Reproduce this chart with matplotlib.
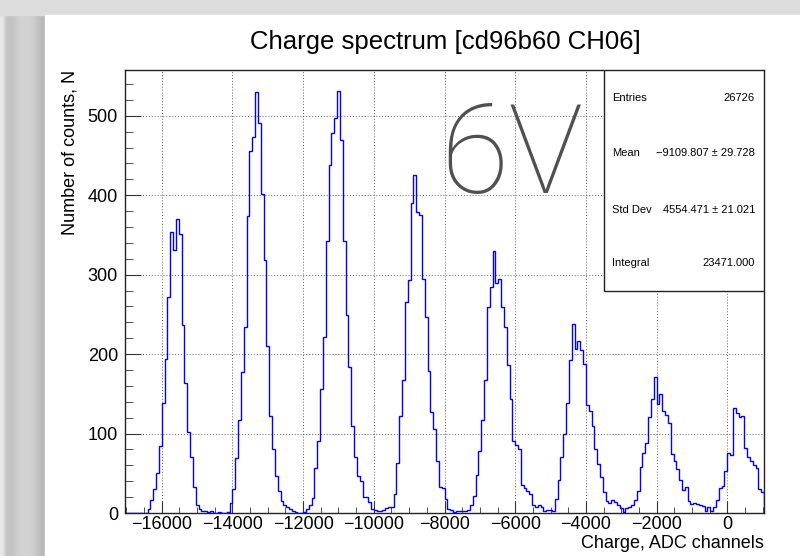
import numpy as np
import matplotlib
matplotlib.use('Agg')
import matplotlib.pyplot as plt
from matplotlib.patches import Rectangle
from matplotlib.ticker import MultipleLocator

plt.rcParams['font.family'] = ['Liberation Sans', 'DejaVu Sans']

# histogram: 226 bins of 80 ADC channels starting at -17040
x_min = -17040
bin_width = 80
counts = [
    0, 0, 0, 0, 0, 0, 0, 0, 5, 16,
    30, 50, 84, 138, 194, 272, 354, 331, 370, 351,
    236, 164, 102, 70, 33, 10, 5, 3, 2, 1,
    2, 0, 0, 1, 0, 0, 1, 13, 30, 69,
    117, 177, 234, 374, 456, 473, 530, 491, 402, 319,
    210, 122, 80, 46, 28, 15, 10, 7, 5, 3,
    1, 0, 0, 1, 5, 10, 19, 57, 91, 156,
    222, 342, 438, 478, 497, 531, 470, 342, 249, 184,
    109, 70, 47, 40, 20, 20, 14, 5, 4, 3,
    3, 4, 6, 7, 7, 24, 63, 122, 168, 266,
    293, 390, 425, 379, 375, 295, 247, 179, 127, 106,
    66, 33, 31, 17, 5, 4, 1, 3, 3, 3,
    3, 4, 10, 22, 48, 78, 117, 167, 259, 284,
    330, 290, 294, 259, 234, 186, 144, 91, 86, 81,
    35, 31, 28, 24, 10, 8, 10, 8, 3, 4,
    4, 3, 18, 41, 70, 100, 139, 192, 238, 207,
    216, 205, 188, 136, 129, 110, 80, 62, 45, 27,
    15, 12, 16, 14, 10, 6, 1, 6, 8, 10,
    16, 28, 58, 75, 88, 121, 144, 171, 137, 150,
    129, 123, 113, 74, 66, 56, 42, 29, 33, 15,
    11, 12, 11, 10, 9, 2, 7, 2, 8, 16,
    32, 34, 53, 76, 73, 132, 126, 121, 122, 82,
    71, 66, 60, 57, 30, 26,
]

stat_names = ['Entries', 'Mean', 'Std Dev', 'Integral']
stat_values = ['26726', '\u22129109.807 \u00b1 29.728', '4554.471 \u00b1 21.021', '23471.000']

edges = x_min + bin_width * np.arange(len(counts) + 1)

fig = plt.figure(figsize=(8, 5.56), dpi=100)

# screenshot background: gray border with a shadowed left strip
bg = fig.add_axes([0, 0, 1, 1], zorder=-10)
bg.axis('off')
strip = [0.91, 0.77, 0.76, 0.79, 0.82, 0.83, 0.82, 0.80, 0.76, 0.72]
bg.imshow(np.array([strip]), cmap='gray', vmin=0, vmax=1, extent=(0, 45, 556, 15),
          aspect='auto', interpolation='bilinear')
bg.add_patch(Rectangle((0, 0), 800, 15, color='#dcdcdc'))
bg.add_patch(Rectangle((45, 15), 755, 541, color='white'))
bg.set_xlim(0, 800)
bg.set_ylim(556, 0)

ax = fig.add_axes([125/800, 43/556, 639/800, 443/556], zorder=1)
ax.set_facecolor('white')
ax.stairs(counts, edges, color='#0000ff', linewidth=1.0, zorder=3)

ax.set_xlim(edges[0], edges[-1])
ax.set_ylim(0, 1.05 * max(counts))
ax.xaxis.set_major_locator(MultipleLocator(2000))
ax.xaxis.set_minor_locator(MultipleLocator(500))
ax.yaxis.set_major_locator(MultipleLocator(100))
ax.yaxis.set_minor_locator(MultipleLocator(20))
ax.grid(True, which='major', color='#666666', linestyle=(0, (1, 2)), linewidth=0.7)
ax.tick_params(which='both', direction='in', top=False, right=False, labelsize=13, color='#333333')
ax.tick_params(axis='x', which='major', length=9, pad=2.5)
ax.tick_params(axis='x', which='minor', length=4.5)
ax.tick_params(axis='y', which='major', length=11.5, pad=5)
ax.tick_params(axis='y', which='minor', length=5.8)
for s in ax.spines.values():
    s.set_color('#222222')
    s.set_linewidth(1.0)

ax.set_xlabel('Charge, ADC channels', loc='right', fontsize=13)
ax.xaxis.set_label_coords(1.0, -0.05)
ax.set_ylabel('Number of counts, N', loc='top', fontsize=13)
ax.yaxis.set_label_coords(-0.072, 1.0)

fig.text(445/800, 1 - 42/556, 'Charge spectrum [cd96b60 CH06]', ha='center', va='center', fontsize=18.5)

# stats box
ax.add_patch(Rectangle((0.7496, 0.5011), 0.2504, 0.4989, transform=ax.transAxes,
                       facecolor='white', edgecolor='#222222', linewidth=1.0, zorder=5))
rows_y = [0.937, 0.8126, 0.684, 0.5643]
for name, val, yy in zip(stat_names, stat_values, rows_y):
    ax.text(0.7617, yy, name, transform=ax.transAxes, fontsize=8, va='center', ha='left', zorder=6)
    ax.text(0.986, yy, val, transform=ax.transAxes, fontsize=8, va='center', ha='right', zorder=6)

fig.text(440/800, 1 - 193/556, '6V', ha='left', va='baseline', fontsize=90,
         family=['Roboto', 'DejaVu Sans'], weight='light', color='#505050', zorder=4)

fig.savefig('out.png', dpi=100)
